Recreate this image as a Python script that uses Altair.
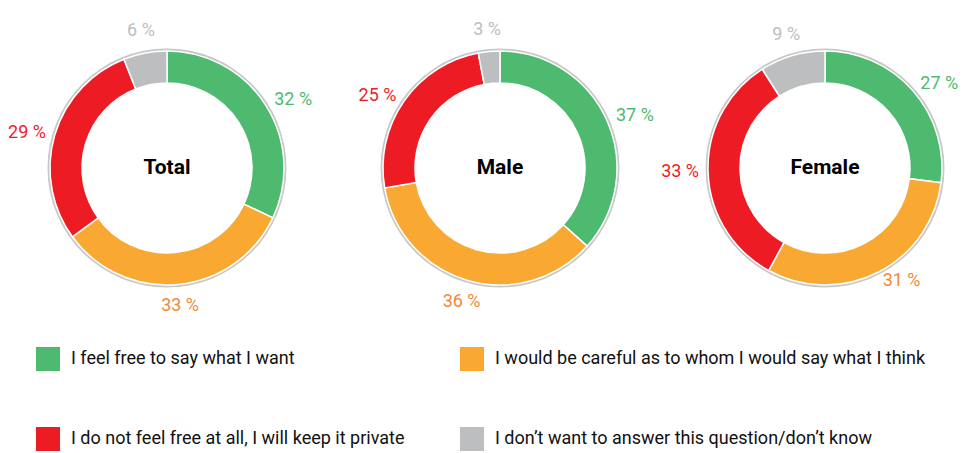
import math
import altair as alt
import pandas as pd

groups = ["Total", "Male", "Female"]
categories = [
    "I feel free to say what I want",
    "I would be careful as to whom I would say what I think",
    "I do not feel free at all, I will keep it private",
    "I don’t want to answer this question/don’t know",
]
total_values = [32, 33, 29, 6]
male_values = [37, 36, 25, 3]
female_values = [27, 31, 33, 9]
group_values = [total_values, male_values, female_values]

slice_colors = ["#4DBA6F", "#F9A831", "#ED1C24", "#BCBEC0"]
label_colors = ["#4DBA6F", "#F08A3B", "#ED1C24", "#BCBEC0"]
outline_color = "#C8C8C8"

FONT = "Roboto"
panel_widths = [294, 372, 278]
panel_height = 320

color_scale = alt.Scale(domain=categories, range=slice_colors)


def label_table(values):
    total = sum(values)
    rows = []
    running = 0
    for cat, v, lc in zip(categories, values, label_colors):
        mid = (running + v / 2) / total * 2 * math.pi
        running += v
        s = math.sin(mid)
        side = "right" if s > 0.3 else ("left" if s < -0.3 else "center")
        rows.append({"category": cat, "label": f"{v} %", "label_color": lc,
                     "mid_angle": mid, "side": side})
    return pd.DataFrame(rows)


def donut(idx):
    name = groups[idx]
    values = group_values[idx]
    df = pd.DataFrame({
        "category": categories,
        "value": values,
        "order": list(range(len(categories))),
    })
    ldf = label_table(values)
    base = alt.Chart(df)
    lbase = alt.Chart(ldf)
    legend = alt.Legend(
        title=None, orient="none", legendX=16, legendY=339, columns=2,
        direction="horizontal",
        symbolType="square", symbolSize=576, symbolStrokeWidth=0,
        labelFont=FONT, labelFontSize=18, labelColor="#111111",
        labelOffset=11, labelLimit=600, rowPadding=56, columnPadding=55,
        padding=0,
    ) if idx == 0 else None

    outline = alt.Chart(pd.DataFrame({"group": [name]})).mark_arc(
        radius=119.5, radius2=117, theta=0, theta2=6.2832
    ).encode(color=alt.value(outline_color))

    ring = base.mark_arc(radius=117, radius2=85, stroke="white", strokeWidth=1.5).encode(
        theta=alt.Theta("value:Q", stack=True),
        order=alt.Order("order:Q"),
        color=alt.Color("category:N", scale=color_scale, legend=legend),
    )

    def labels(side, align, radius):
        return lbase.transform_filter(alt.datum.side == side).mark_text(
            align=align, baseline="middle", radius=radius, font=FONT, fontSize=18
        ).encode(
            theta=alt.Theta("mid_angle:Q", scale=None),
            text="label:N",
            color=alt.Color("label_color:N", scale=None),
        )

    title = alt.Chart(pd.DataFrame({"group": [name]})).mark_text(
        font=FONT, fontSize=21, fontWeight="bold", color="#000000"
    ).encode(text="group:N")

    return alt.layer(
        outline, ring,
        labels("right", "left", 127),
        labels("left", "right", 126),
        labels("center", "center", 139),
        title,
    ).properties(width=panel_widths[idx], height=panel_height)


chart = alt.hconcat(*[donut(i) for i in range(3)], spacing=0, bounds="flush").resolve_scale(
    theta="independent"
).properties(padding=0).configure_view(stroke=None)

chart.save("out.html", embed_options={"renderer": "svg", "actions": False})
